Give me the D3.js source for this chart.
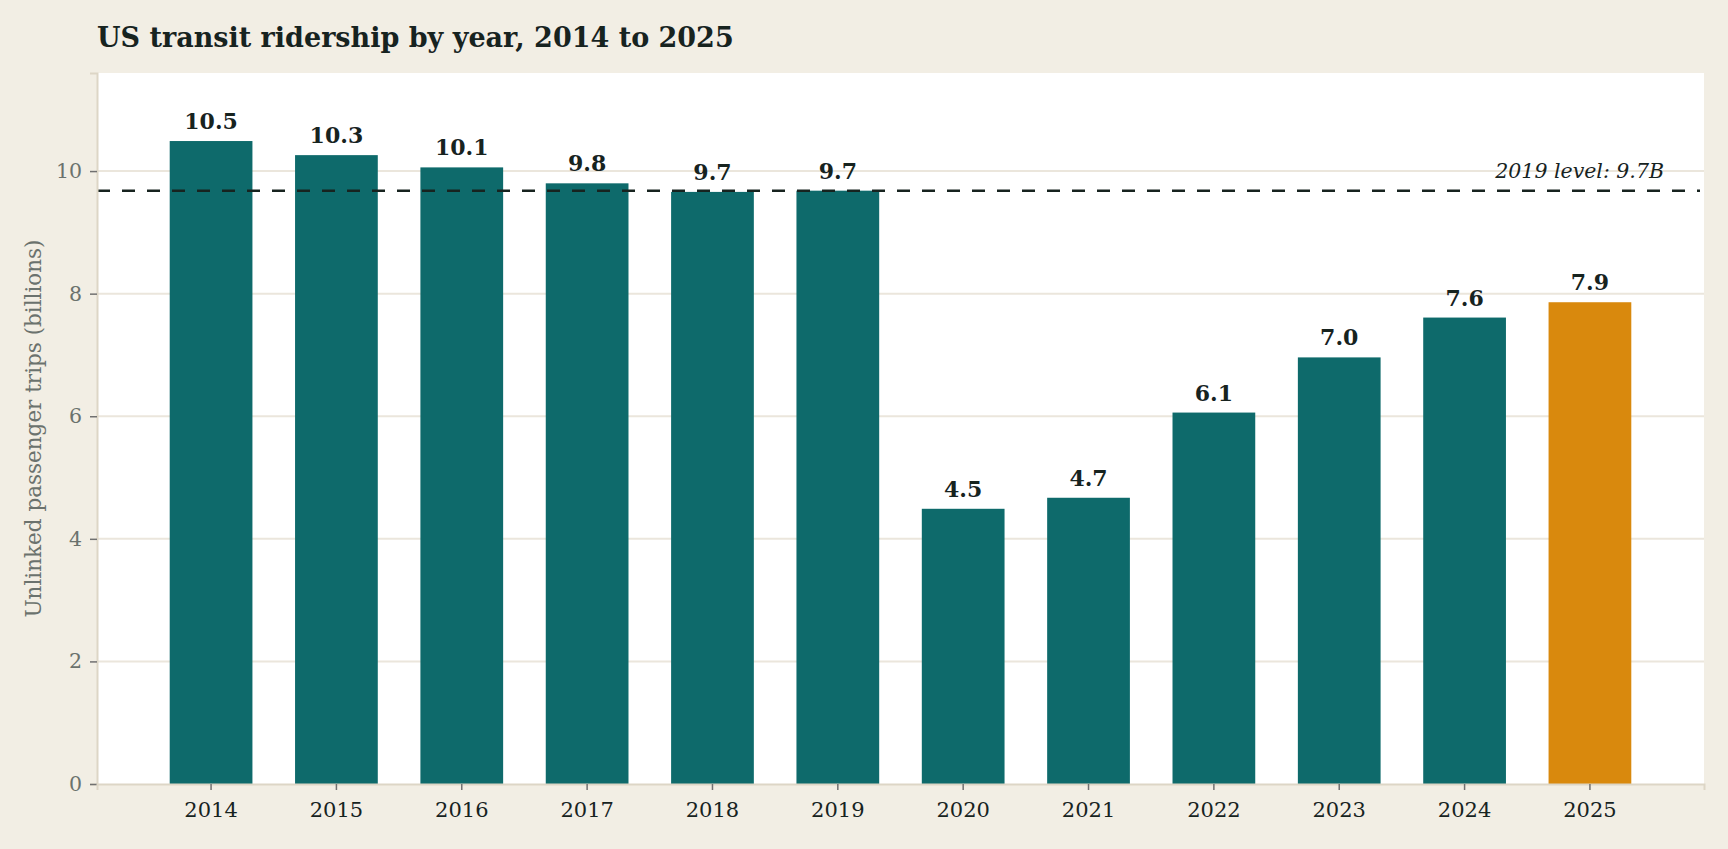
<!DOCTYPE html>
<html>
<head>
<meta charset="utf-8">
<script src="https://cdn.jsdelivr.net/npm/d3@7"></script>
<style>
  html, body { margin: 0; padding: 0; background: #f2eee4; }
  svg { display: block; font-family: "DejaVu Serif", Georgia, serif; }
</style>
</head>
<body>
<svg id="chart" width="1728" height="849"></svg>
<script>
const years = ['2014', '2015', '2016', '2017', '2018', '2019', '2020', '2021', '2022', '2023', '2024', '2025'];
const ridership = [10.49, 10.26, 10.06, 9.80, 9.66, 9.68, 4.49, 4.67, 6.06, 6.96, 7.61, 7.86];
const yTicks = [0, 2, 4, 6, 8, 10];
const refYear = '2019';

const data = years.map((y, i) => ({ year: y, value: ridership[i] }));
const refValue = ridership[years.indexOf(refYear)];

const svg = d3.select('#chart');

const plotLeft = 97, plotRight = 1704, plotTop = 73, plotBottom = 784;

svg.append('text')
  .attr('x', 97)
  .attr('y', 47)
  .attr('fill', '#17231f')
  .attr('font-size', 27)
  .attr('font-weight', 'bold')
  .text('US transit ridership by year, 2014 to 2025');

svg.append('rect')
  .attr('x', plotLeft)
  .attr('y', plotTop)
  .attr('width', plotRight - plotLeft)
  .attr('height', plotBottom - plotTop)
  .attr('fill', '#ffffff');

const yScale = d3.scaleLinear()
  .domain([0, 11.6])
  .range([plotBottom, plotTop]);

const xScale = d3.scaleBand()
  .domain(years)
  .range([plotLeft, plotRight])
  .paddingInner(0.34)
  .paddingOuter(0.58);

// gridlines
svg.append('g')
  .selectAll('line')
  .data(yTicks.filter(d => d > 0))
  .enter()
  .append('line')
  .attr('x1', plotLeft)
  .attr('x2', plotRight)
  .attr('y1', d => yScale(d))
  .attr('y2', d => yScale(d))
  .attr('stroke', '#ebe6dc')
  .attr('stroke-width', 2);

// bars
svg.append('g')
  .selectAll('rect')
  .data(data)
  .enter()
  .append('rect')
  .attr('x', d => xScale(d.year))
  .attr('y', d => yScale(d.value))
  .attr('width', xScale.bandwidth())
  .attr('height', d => plotBottom - yScale(d.value))
  .attr('fill', d => d.year === '2025' ? '#d9890d' : '#0e6a6b');

// reference line
svg.append('line')
  .attr('x1', plotLeft)
  .attr('x2', plotRight - 4)
  .attr('y1', yScale(refValue))
  .attr('y2', yScale(refValue))
  .attr('stroke', '#17231f')
  .attr('stroke-width', 2.5)
  .attr('stroke-dasharray', '13,12');

svg.append('text')
  .attr('x', 1664)
  .attr('y', 178)
  .attr('text-anchor', 'end')
  .attr('font-style', 'italic')
  .attr('font-size', 20.5)
  .attr('fill', '#17231f')
  .text(`${refYear} level: ${refValue.toFixed(1)}B`);

// value labels
svg.append('g')
  .selectAll('text')
  .data(data)
  .enter()
  .append('text')
  .attr('x', d => xScale(d.year) + xScale.bandwidth() / 2)
  .attr('y', d => yScale(d.value) - 12)
  .attr('text-anchor', 'middle')
  .attr('font-size', 22)
  .attr('font-weight', 'bold')
  .attr('fill', '#17231f')
  .text(d => d.value.toFixed(1));

// axes
const yAxis = svg.append('g')
  .attr('transform', `translate(${plotLeft}, 0)`)
  .call(d3.axisLeft(yScale).tickValues(yTicks).tickSize(7).tickPadding(8));
yAxis.select('.domain').attr('stroke', '#ddd6c6').attr('stroke-width', 2);
yAxis.selectAll('.tick line').attr('stroke', '#707070').attr('stroke-width', 1.5);
yAxis.selectAll('.tick text')
  .attr('font-family', '"DejaVu Serif", Georgia, serif')
  .attr('font-size', 20.5)
  .attr('fill', '#6b726d');

const xAxis = svg.append('g')
  .attr('transform', `translate(0, ${plotBottom})`)
  .call(d3.axisBottom(xScale).tickSize(6).tickPadding(12));
xAxis.select('.domain').attr('stroke', '#ddd6c6').attr('stroke-width', 2);
xAxis.selectAll('.tick line').attr('stroke', '#707070').attr('stroke-width', 1.5);
xAxis.selectAll('.tick text')
  .attr('font-family', '"DejaVu Serif", Georgia, serif')
  .attr('font-size', 21)
  .attr('fill', '#17231f');

svg.append('text')
  .attr('transform', `translate(33, ${(plotTop + plotBottom) / 2}) rotate(-90)`)
  .attr('text-anchor', 'middle')
  .attr('dominant-baseline', 'central')
  .attr('font-size', 21.5)
  .attr('fill', '#6b726d')
  .text('Unlinked passenger trips (billions)');
</script>
</body>
</html>
